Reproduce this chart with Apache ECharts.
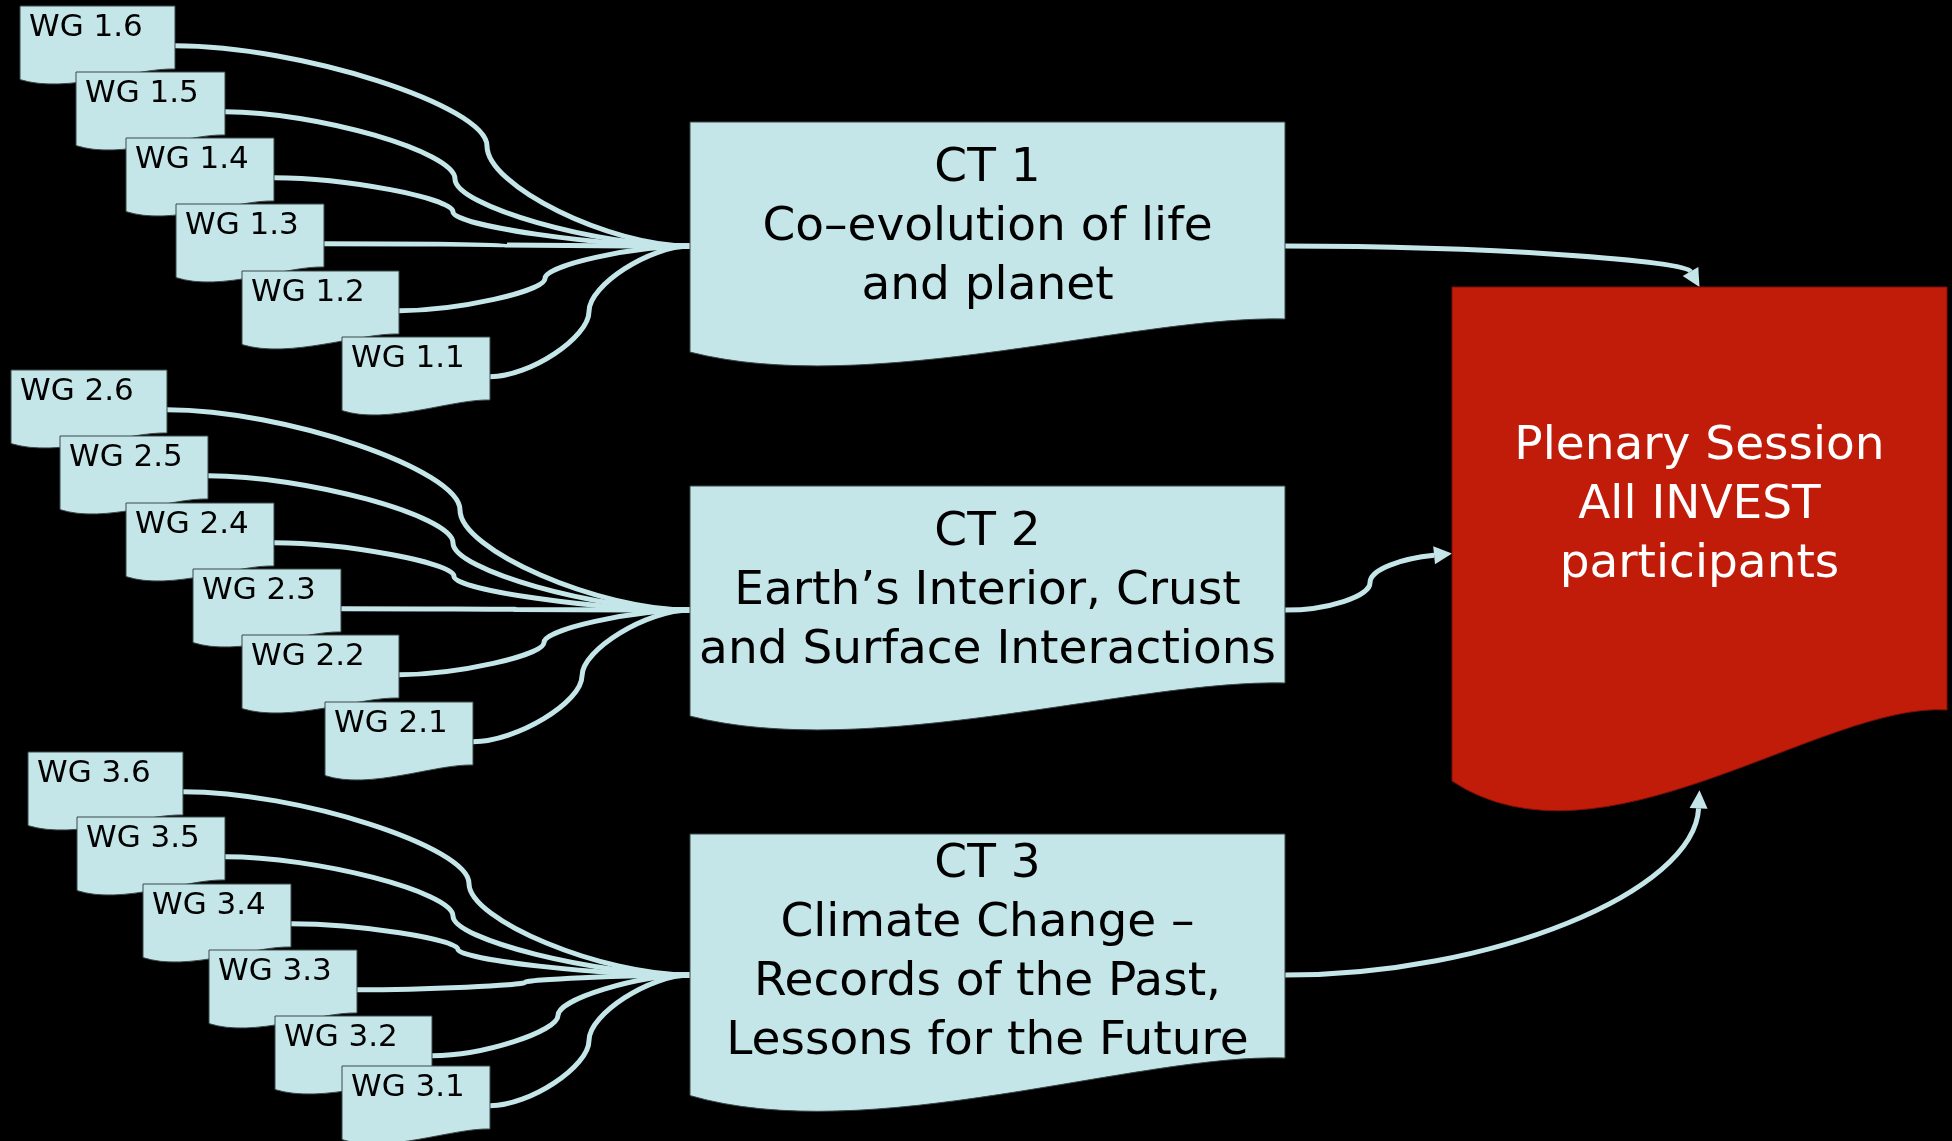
<!DOCTYPE html>
<html>
<head>
<meta charset="utf-8">
<title>INVEST sessions</title>
<script src="https://cdn.jsdelivr.net/npm/echarts@6/dist/echarts.min.js"></script>
<style>
  html, body { margin: 0; padding: 0; background: #000; }
  #chart { width: 1952px; height: 1141px; }
</style>
</head>
<body>
<div id="chart"></div>
<script>
// working groups, listed top to bottom inside each theme
const wgNames = [
  'WG 1.6', 'WG 1.5', 'WG 1.4', 'WG 1.3', 'WG 1.2', 'WG 1.1',
  'WG 2.6', 'WG 2.5', 'WG 2.4', 'WG 2.3', 'WG 2.2', 'WG 2.1',
  'WG 3.6', 'WG 3.5', 'WG 3.4', 'WG 3.3', 'WG 3.2', 'WG 3.1'
];
const wgTheme = [0, 0, 0, 0, 0, 0, 1, 1, 1, 1, 1, 1, 2, 2, 2, 2, 2, 2];
const wgLeft = [20, 76, 126, 176, 242, 342, 11, 60, 126, 193, 242, 325, 28, 77, 143, 209, 275, 342];
const wgRight = [175, 225, 274, 324, 399, 490, 167, 208, 274, 341, 399, 473, 183, 225, 291, 357, 432, 490];
const wgTop = [6, 72, 138, 204, 271, 337, 370, 436, 503, 569, 635, 702, 752, 817, 884, 950, 1016, 1066];
const wgBendX = [487, 455, 453, 507, 545, 589, 460, 453, 454, 516, 544, 582, 469, 453, 458, 525, 558, 589];
const WG_H = 63;

// cross-cutting themes
const ctNames = [
  'CT 1\nCo–evolution of life\nand planet',
  'CT 2\nEarth’s Interior, Crust\nand Surface Interactions',
  'CT 3\nClimate Change –\nRecords of the Past,\nLessons for the Future'
];
const ctLeft = [690, 690, 690];
const ctRight = [1285, 1285, 1285];
const ctTop = [122, 486, 834];
const ctHeight = [197, 197, 224];
const ctTarget = ['top', 'left', 'bottom'];
const ctBendX = [null, 1370, null];

const plenaryName = 'Plenary Session\nAll INVEST\nparticipants';
const plenaryLeft = 1452, plenaryRight = 1947, plenaryTop = 287, plenaryHeight = 423;

const CYAN = '#c4e6e9';
const RED = '#c11b09';
const FONT = '"DejaVu Sans", "Noto Sans", sans-serif';
const PORT = 0.63;      // side connection point, share of the box height
const ARROW_LEN = 18, ARROW_HALF = 9;
const LINE_W = 5;

const fmt = p => p[0].toFixed(1) + ' ' + p[1].toFixed(1);
const lerp = (a, b, t) => [a[0] + (b[0] - a[0]) * t, a[1] + (b[1] - a[1]) * t];

// rectangle with a wavy bottom edge (document shape)
function docPath(api, l, t, r, h) {
  const w = r - l;
  const c = [
    [l, t], [r, t], [r, t + h],
    [l + 0.75 * w, t + 0.98 * h], [l + 0.3 * w, t + 1.4 * h], [l, t + 1.168 * h]
  ].map(p => fmt(api.coord(p)));
  return `M ${c[0]} L ${c[1]} L ${c[2]} C ${c[3]} ${c[4]} ${c[5]} Z`;
}

// curved connector along an L route (bendX null) or a Z route through bendX
function routePath(api, s, e, bendX, k, dir) {
  let segs;
  if (bendX == null) {
    const corner = [e[0], s[1]];
    const d = Math.hypot(corner[0] - e[0], corner[1] - e[1]);
    segs = [[[s[0] + k * (corner[0] - s[0]), s[1]], [e[0] - dir[0] * k * d, e[1] - dir[1] * k * d], e]];
  } else {
    const mid = [bendX, (s[1] + e[1]) / 2];
    const k1 = [bendX, s[1]], k2 = [bendX, e[1]];
    const d = Math.hypot(k2[0] - e[0], k2[1] - e[1]);
    segs = [
      [lerp(s, k1, k), lerp(mid, k1, k), mid],
      [lerp(mid, k2, k), [e[0] - dir[0] * k * d, e[1] - dir[1] * k * d], e]
    ];
  }
  let str = 'M ' + fmt(api.coord(s));
  segs.forEach(seg => { str += ' C ' + seg.map(p => fmt(api.coord(p))).join(' '); });
  return str;
}

const chart = echarts.init(document.getElementById('chart'));

chart.setOption({
  backgroundColor: '#000',
  animation: false,
  grid: { left: 0, right: 0, top: 0, bottom: 0 },
  xAxis: { type: 'value', min: 0, max: 1952, show: false },
  yAxis: { type: 'value', min: 0, max: 1141, inverse: true, show: false },
  series: [
    {
      // working group -> theme connectors
      type: 'custom',
      z: 1,
      silent: true,
      clip: false,
      data: wgNames.map((n, i) => [i]),
      renderItem: (params, api) => {
        const i = api.value(0);
        const g = wgTheme[i];
        const s = [wgRight[i], wgTop[i] + PORT * WG_H];
        const e = [ctLeft[g], ctTop[g] + PORT * ctHeight[g]];
        return {
          type: 'path',
          shape: { pathData: routePath(api, s, e, wgBendX[i], 0.4, [1, 0]) },
          style: { fill: null, stroke: CYAN, lineWidth: LINE_W }
        };
      }
    },
    {
      // theme -> plenary connectors with arrow heads
      type: 'custom',
      z: 1,
      silent: true,
      clip: false,
      data: ctNames.map((n, i) => [i]),
      renderItem: (params, api) => {
        const i = api.value(0);
        const pw = plenaryRight - plenaryLeft;
        const side = ctTarget[i];
        let tip, dir;
        if (side === 'top') {
          tip = [plenaryLeft + pw / 2, plenaryTop]; dir = [0.5, 0.866];
        } else if (side === 'left') {
          tip = [plenaryLeft, plenaryTop + PORT * plenaryHeight]; dir = [0.995, -0.1];
        } else {
          tip = [plenaryLeft + pw / 2, plenaryTop + 1.19 * plenaryHeight]; dir = [0.05, -0.999];
        }
        const base = [tip[0] - dir[0] * ARROW_LEN, tip[1] - dir[1] * ARROW_LEN];
        const s = [ctRight[i], ctTop[i] + PORT * ctHeight[i]];
        const b1 = [base[0] - dir[1] * ARROW_HALF, base[1] + dir[0] * ARROW_HALF];
        const b2 = [base[0] + dir[1] * ARROW_HALF, base[1] - dir[0] * ARROW_HALF];
        return {
          type: 'group',
          children: [
            {
              type: 'path',
              shape: { pathData: routePath(api, s, base, ctBendX[i], 0.5, dir) },
              style: { fill: null, stroke: CYAN, lineWidth: LINE_W }
            },
            {
              type: 'polygon',
              shape: { points: [api.coord(tip), api.coord(b1), api.coord(b2)] },
              style: { fill: CYAN }
            }
          ]
        };
      }
    },
    {
      // working group boxes
      type: 'custom',
      z: 2,
      silent: true,
      clip: false,
      data: wgNames.map((n, i) => [i]),
      renderItem: (params, api) => {
        const i = api.value(0);
        const p = api.coord([wgLeft[i] + 9, wgTop[i] + 22]);
        return {
          type: 'group',
          children: [
            {
              type: 'path',
              shape: { pathData: docPath(api, wgLeft[i], wgTop[i], wgRight[i], WG_H) },
              style: { fill: CYAN, stroke: '#3a4849', lineWidth: 1 }
            },
            {
              type: 'text',
              style: {
                text: wgNames[i], x: p[0], y: p[1],
                fontSize: 31, fontFamily: FONT, fill: '#000',
                align: 'left', verticalAlign: 'middle',
                textAlign: 'left', textVerticalAlign: 'middle'
              }
            }
          ]
        };
      }
    },
    {
      // theme boxes
      type: 'custom',
      z: 2,
      silent: true,
      clip: false,
      data: ctNames.map((n, i) => [i]),
      renderItem: (params, api) => {
        const i = api.value(0);
        const p = api.coord([(ctLeft[i] + ctRight[i]) / 2, ctTop[i] + ctHeight[i] / 2 + 7]);
        return {
          type: 'group',
          children: [
            {
              type: 'path',
              shape: { pathData: docPath(api, ctLeft[i], ctTop[i], ctRight[i], ctHeight[i]) },
              style: { fill: CYAN, stroke: '#3a4849', lineWidth: 1 }
            },
            {
              type: 'text',
              style: {
                text: ctNames[i], x: p[0], y: p[1],
                fontSize: 47, lineHeight: 59, fontFamily: FONT, fill: '#000',
                align: 'center', verticalAlign: 'middle',
                textAlign: 'center', textVerticalAlign: 'middle'
              }
            }
          ]
        };
      }
    },
    {
      // plenary session
      type: 'custom',
      z: 2,
      silent: true,
      clip: false,
      data: [[0]],
      renderItem: (params, api) => {
        const p = api.coord([(plenaryLeft + plenaryRight) / 2, plenaryTop + plenaryHeight / 2 + 7]);
        return {
          type: 'group',
          children: [
            {
              type: 'path',
              shape: { pathData: docPath(api, plenaryLeft, plenaryTop, plenaryRight, plenaryHeight) },
              style: { fill: RED, stroke: '#7c1006', lineWidth: 1 }
            },
            {
              type: 'text',
              style: {
                text: plenaryName, x: p[0], y: p[1],
                fontSize: 47, lineHeight: 59, fontFamily: FONT, fill: '#fff',
                align: 'center', verticalAlign: 'middle',
                textAlign: 'center', textVerticalAlign: 'middle'
              }
            }
          ]
        };
      }
    }
  ]
});
</script>
</body>
</html>
